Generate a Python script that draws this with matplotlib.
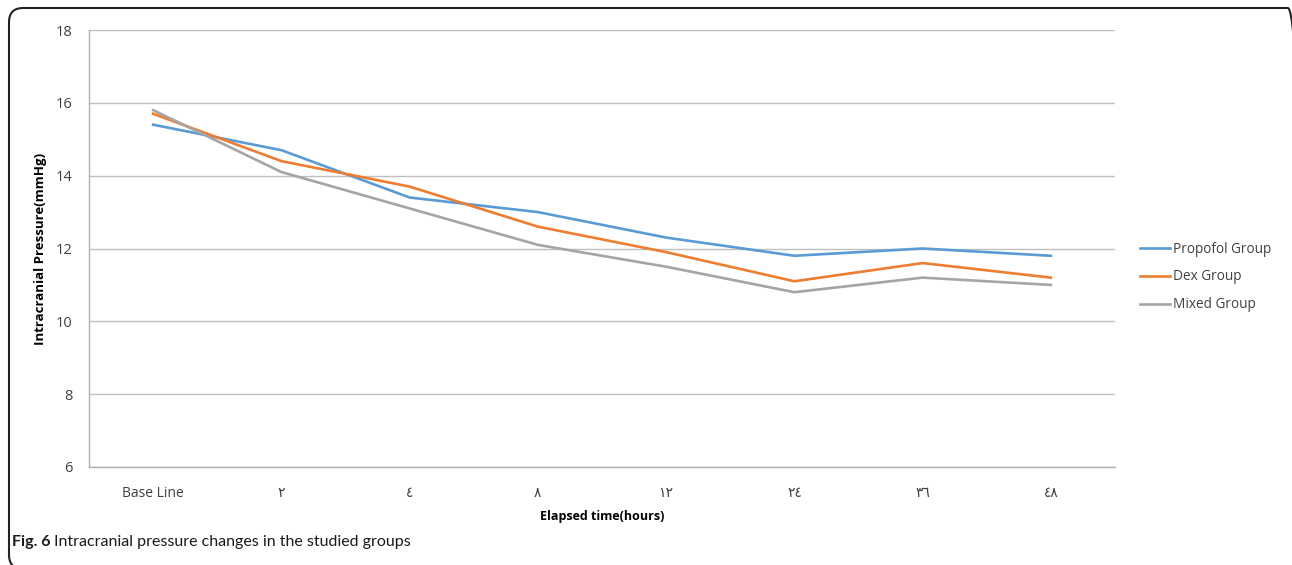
import matplotlib
matplotlib.use("Agg")
import matplotlib.pyplot as plt
from matplotlib.patches import FancyBboxPatch

# data
time_labels = ["Base Line", "٢", "٤", "٨", "١٢", "٢٤", "٣٦", "٤٨"]
propofol = [15.4, 14.7, 13.4, 13.0, 12.3, 11.8, 12.0, 11.8]
dex = [15.7, 14.4, 13.7, 12.6, 11.9, 11.1, 11.6, 11.2]
mixed = [15.8, 14.1, 13.1, 12.1, 11.5, 10.8, 11.2, 11.0]
y_ticks = [6, 8, 10, 12, 14, 16, 18]

plt.rcParams['font.family'] = ['Open Sans', 'DejaVu Sans']

fig = plt.figure(figsize=(12.92, 5.65), dpi=100)
ax = fig.add_axes([89 / 1292, 1 - 467 / 565, (1115 - 89) / 1292, (467 - 30) / 565])

x = range(len(time_labels))
ax.plot(x, propofol, color='#5B9BD5', lw=1.9, label='Propofol Group')
ax.plot(x, dex, color='#ED7D31', lw=1.9, label='Dex Group')
ax.plot(x, mixed, color='#A5A5A5', lw=1.9, label='Mixed Group')

ax.set_xlim(-0.5, len(time_labels) - 0.5)
ax.set_ylim(6, 18)
ax.set_yticks(y_ticks)
ax.set_xticks(list(x))
ax.set_xticklabels(time_labels)
ax.tick_params(axis='x', length=0, labelsize=10, colors='#404040', pad=14)
ax.tick_params(axis='y', length=0, labelsize=10.5, colors='#404040', pad=12)
ax.grid(axis='y', color='#C0C0C0', lw=1)
ax.set_axisbelow(True)
for s in ['top', 'right']:
    ax.spines[s].set_visible(False)
for s in ['left', 'bottom']:
    ax.spines[s].set_color('#B0B0B0')
    ax.spines[s].set_linewidth(1)

ax.set_ylabel('Intracranial Pressure(mmHg)', fontsize=9.5, fontweight='bold', labelpad=6)
ax.set_xlabel('Elapsed time(hours)', fontsize=9, fontweight='bold', labelpad=6)

ax.legend(loc='center left', bbox_to_anchor=(1128 / 1292, 1 - 277 / 565),
          bbox_transform=fig.transFigure, frameon=False, fontsize=9.8,
          handlelength=2.2, handletextpad=0.2, labelspacing=0.95,
          labelcolor='#404040')

# rounded frame around the figure, right and bottom edges sit just past the image
frame = FancyBboxPatch((9 / 1292, -4 / 565), (1302 - 9) / 1292, (565 - 8 + 4) / 565,
                       boxstyle='round,pad=0,rounding_size=0.011',
                       transform=fig.transFigure, fill=False,
                       edgecolor='#222222', lw=1.5, mutation_aspect=1292 / 565)
fig.patches.append(frame)

# caption
cap_font = ['Lato', 'DejaVu Sans']
t1 = fig.text(12 / 1292, 1 - 542 / 565, 'Fig. 6', fontsize=11.5, fontweight='bold',
              va='center', color='#1a1a1a', family=cap_font)
fig.canvas.draw()
bb = t1.get_window_extent()
fig.text((bb.x1 + 4) / 1292, 1 - 542 / 565, 'Intracranial pressure changes in the studied groups',
         fontsize=11.5, va='center', color='#1a1a1a', family=cap_font)

fig.savefig('out.png', dpi=100)
